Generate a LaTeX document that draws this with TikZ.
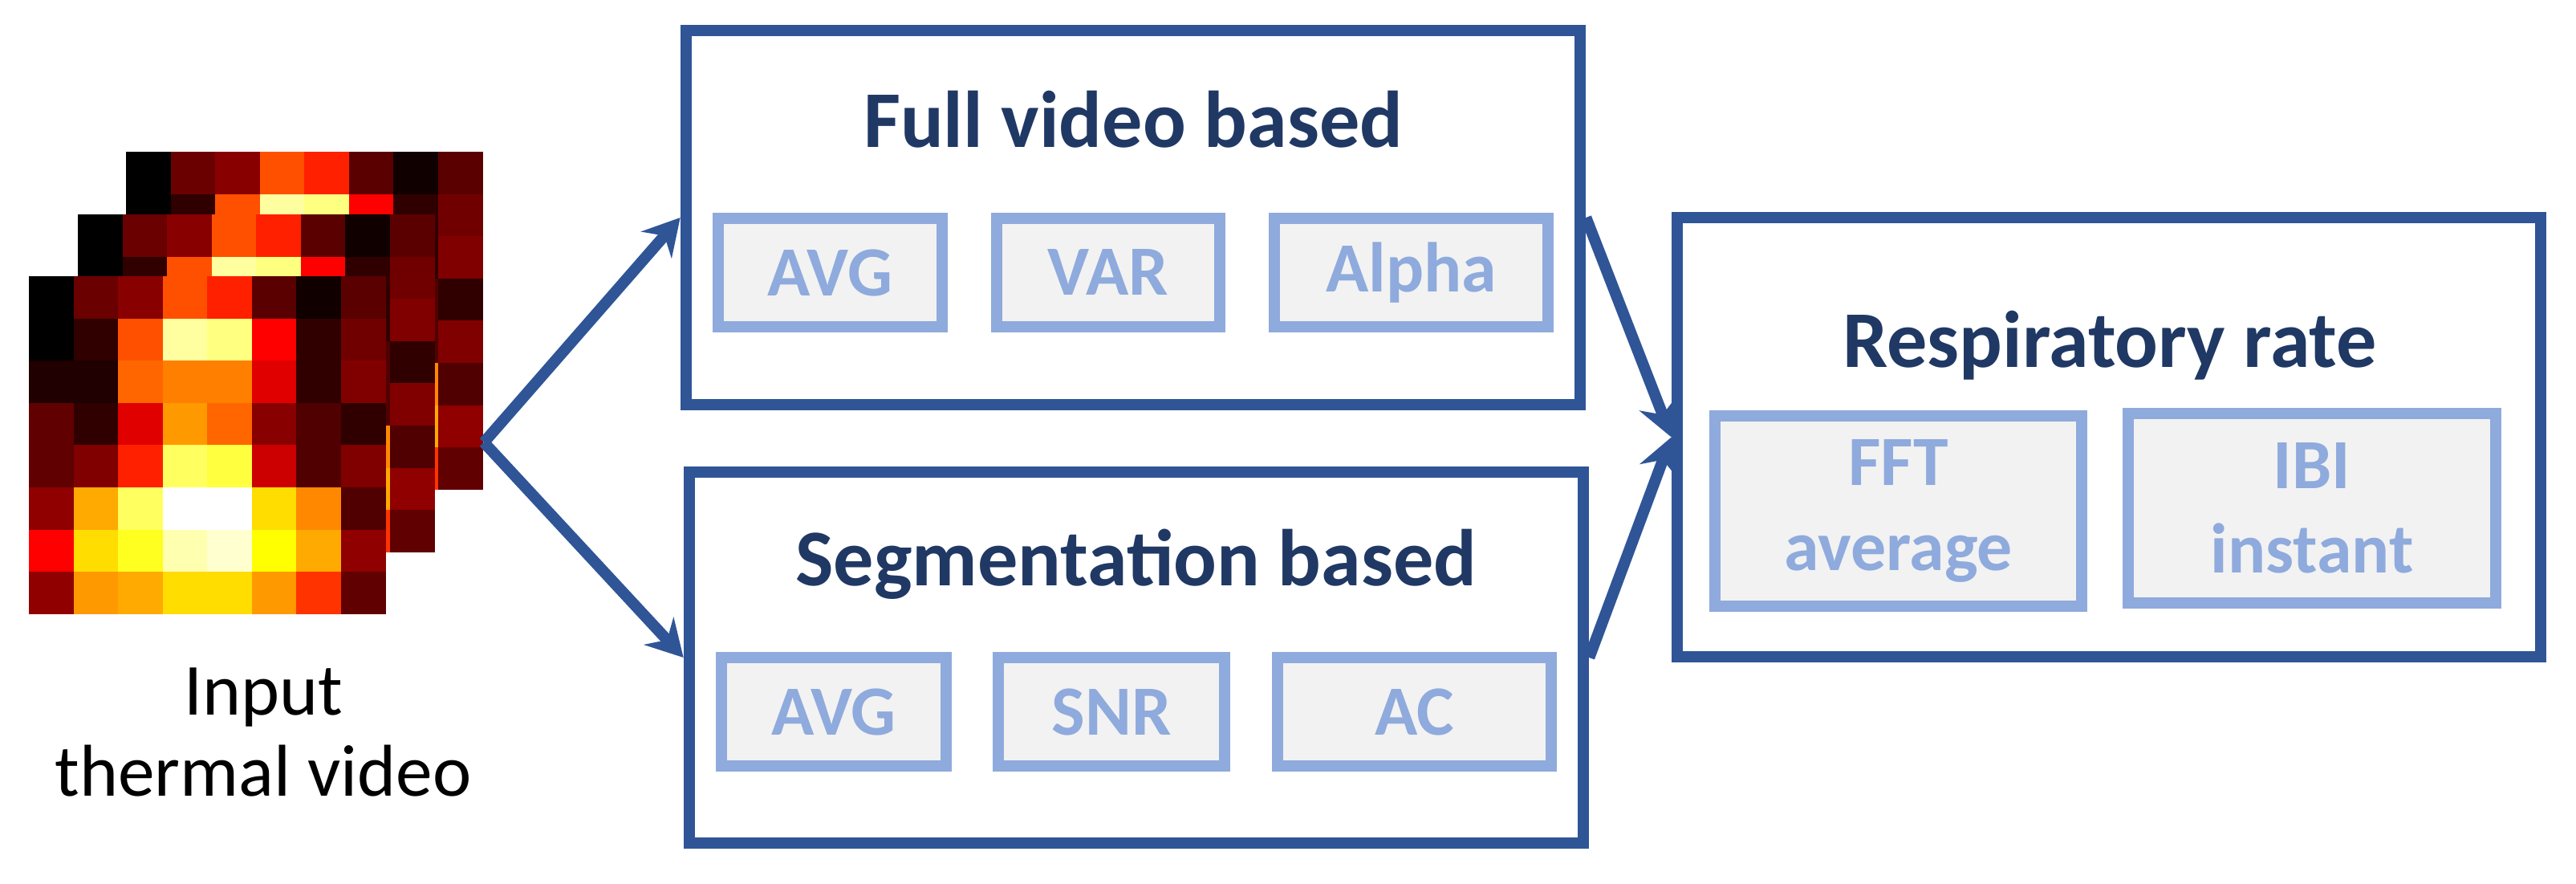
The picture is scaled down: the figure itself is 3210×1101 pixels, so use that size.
\documentclass[tikz,border=0pt]{standalone}
\usepackage{fontspec}
\setmainfont{Carlito}
\usetikzlibrary{arrows.meta}
\definecolor{boxblue}{HTML}{2F5597}
\definecolor{titleblue}{HTML}{203864}
\definecolor{lightblue}{HTML}{8FAADC}
\definecolor{lightfill}{HTML}{F2F2F2}
\newcommand\heatgrid[2]{%
  \foreach \row [count=\j from 0] in {
    {000000,6a0000,880000,ff5000,ff2000,5a0000,100000,5a0000},
    {000000,300000,ff5000,ffffa0,ffff80,ff0000,300000,700000},
    {200000,200000,ff6600,ff8000,ff8000,e00000,300000,800000},
    {600000,300000,e00000,ff9900,ff6600,880000,500000,300000},
    {600000,800000,ff2000,ffff60,ffff40,cc0000,500000,800000},
    {900000,ffaa00,ffff60,ffffff,ffffff,ffdd00,ff8800,500000},
    {ff0000,ffdd00,ffff20,ffffb0,ffffd0,ffff00,ffaa00,900000},
    {900000,ff9900,ffaa00,ffdd00,ffdd00,ff9900,ff3300,600000}}{
    \foreach \c [count=\i from 0] in \row {
      \definecolor{cellc}{HTML}{\c}
      \fill[cellc] ({#1+\i*55.5},{#2+\j*52.6}) rectangle ({#1+(\i+1)*55.5+0.5},{#2+(\j+1)*52.6+0.5});
    }}}
\begin{document}
\begin{tikzpicture}[x=0.01cm,y=-0.01cm,
  bigbox/.style={draw=boxblue,line width=0.14cm,fill=white,inner sep=0pt},
  smallbox/.style={draw=lightblue,line width=0.14cm,fill=lightfill,inner sep=0pt,text=lightblue,font=\fontsize{25}{30}\selectfont\bfseries,align=center},
  title/.style={anchor=base,text=titleblue,font=\fontsize{28.5}{32}\selectfont\bfseries},
  conn/.style={draw=boxblue,line width=0.14cm,-{Stealth[length=0.45cm,width=0.5cm,inset=0.15cm]}}]
\useasboundingbox (0,0) rectangle (3210,1101);
\heatgrid{157}{189}
\heatgrid{97}{267}
\heatgrid{36}{344}
\coordinate (v) at (603,551);
\node[align=center,font=\fontsize{26}{29}\selectfont] (inp) at (328,912) {Input\\thermal video};
\node[bigbox,minimum width=11.14cm,minimum height=4.66cm] (top) at (1412,271) {};
\node[bigbox,minimum width=11.14cm,minimum height=4.62cm] (bot) at (1416,819) {};
\node[bigbox,minimum width=10.76cm,minimum height=5.47cm] (res) at (2628,544.5) {};
\node[title] (t1) at (1412,184) {Full video based};
\node[title] (t2) at (1416,730) {Segmentation based};
\node[title] (t3) at (2629,458) {Respiratory rate};
\node[smallbox,minimum width=2.79cm,minimum height=1.35cm] (a1) at (1034.5,339.5) {AVG};
\node[smallbox,minimum width=2.78cm,minimum height=1.35cm] (a2) at (1381,339.5) {VAR};
\node[smallbox,minimum width=3.41cm,minimum height=1.35cm] (a3) at (1758.5,339.5) {Alpha};
\node[smallbox,minimum width=2.80cm,minimum height=1.35cm] (b1) at (1039,886.5) {AVG};
\node[smallbox,minimum width=2.82cm,minimum height=1.35cm] (b2) at (1385,886.5) {SNR};
\node[smallbox,minimum width=3.41cm,minimum height=1.35cm] (b3) at (1762.5,886.5) {AC};
\node[smallbox,minimum width=4.57cm,minimum height=2.37cm] (c1) at (2365.5,636.5) {FFT\\average};
\node[smallbox,minimum width=4.58cm,minimum height=2.36cm] (c2) at (2881,633) {IBI\\instant};
\draw[conn] (v) -- (top.west);
\draw[conn] (v) -- (bot.west);
\draw[conn] (top.east) -- (res.west);
\draw[conn] (bot.east) -- (res.west);
\end{tikzpicture}
\end{document}
